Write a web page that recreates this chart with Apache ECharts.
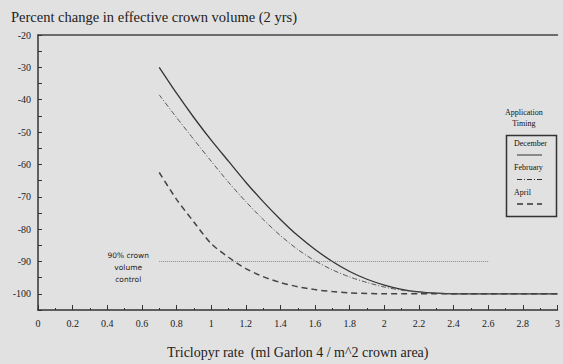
<!DOCTYPE html>
<html>
<head>
<meta charset="utf-8">
<script src="https://cdn.jsdelivr.net/npm/echarts@6/dist/echarts.min.js"></script>
<style>
  html, body { margin: 0; padding: 0; background: #e1e1e1; }
  #chart { width: 563px; height: 364px; }
</style>
</head>
<body>
<div id="chart"></div>
<script>
// Triclopyr rate (ml Garlon 4 / m^2 crown area)
var rates = [0.7, 0.8, 0.9, 1.0, 1.1, 1.2, 1.3, 1.4, 1.5, 1.6, 1.7, 1.8,
             1.9, 2.0, 2.1, 2.2, 2.3, 2.4, 2.5, 2.6, 2.7, 2.8, 2.9, 3.0];
// percent change in crown volume
var december = [-30, -38, -45.5, -52.5, -59, -65.5, -71.5, -77, -82, -86.3, -90, -93.1,
                -95.5, -97.3, -98.6, -99.4, -99.8, -100, -100, -100, -100, -100, -100, -100];
var february = [-38.5, -45.5, -52.3, -59, -65.5, -71.5, -77, -82, -86.3, -89.8, -92.6, -94.8,
                -96.5, -97.9, -98.9, -99.5, -99.8, -100, -100, -100, -100, -100, -100, -100];
var april = [-62.5, -70.8, -77.8, -84.5, -88.7, -92.2, -94.7, -96.5, -97.8, -98.7, -99.3, -99.7,
             -99.9, -100, -100, -100, -100, -100, -100, -100, -100, -100, -100, -100];
// 90% control reference line
var controlX = [0.7, 2.6];
var controlY = [-90, -90];

var seriesNames = ["December", "February", "April"];
var seriesDash = ["solid", [5, 2, 1, 2], [6, 4]];

var serif = "'Liberation Serif', 'Times New Roman', serif";
var ink = "#222";

function pairs(xs, ys) {
  return xs.map(function (x, i) { return [x, ys[i]]; });
}

var chart = echarts.init(document.getElementById("chart"), null, { renderer: "svg" });

// legend box drawn by hand: name above a short line sample
var legendItems = [];
seriesNames.forEach(function (name, i) {
  var y = 144 + i * 24.5;
  legendItems.push({
    type: "text", left: 514, top: y - 5,
    style: { text: name, font: "8px " + serif, fill: "#111", width: 30, textAlign: "center", x: 15 }
  });
  legendItems.push({
    type: "line",
    shape: { x1: 517, y1: y + 11, x2: 542, y2: y + 11 },
    style: { stroke: "#333", lineWidth: i === 2 ? 1.5 : 1, lineDash: seriesDash[i] === "solid" ? null : seriesDash[i] }
  });
});

chart.setOption({
  backgroundColor: "#e1e1e1",
  animation: false,
  title: {
    text: "Percent change in effective crown volume (2 yrs)",
    left: 6,
    top: 4,
    textStyle: { fontFamily: serif, fontSize: 14.5, fontWeight: "normal", color: ink }
  },
  grid: { left: 38, right: 0, top: 35, bottom: 49 },
  xAxis: [
    {
      type: "value",
      min: 0,
      max: 3,
      interval: 0.2,
      name: "Triclopyr rate  (ml Garlon 4 / m^2 crown area)",
      nameLocation: "middle",
      nameGap: 35,
      nameTextStyle: { fontFamily: serif, fontSize: 14, color: ink },
      axisLine: { lineStyle: { color: "#333", width: 1.5 } },
      axisTick: { inside: true, length: 5, lineStyle: { color: "#333" } },
      minorTick: { show: true, splitNumber: 2, length: 2, lineStyle: { color: "#333" } },
      axisLabel: { fontFamily: serif, fontSize: 10, color: ink, margin: 8 },
      splitLine: { show: false }
    },
    {
      type: "value",
      position: "top",
      min: 0,
      max: 3,
      axisLine: { show: true, lineStyle: { color: "#444", width: 1.5 } },
      axisTick: { show: false },
      axisLabel: { show: false },
      splitLine: { show: false }
    }
  ],
  yAxis: {
    type: "value",
    min: -105,
    max: -20,
    interval: 5,
    axisLine: { show: true, lineStyle: { color: "#333", width: 1.5 } },
    axisTick: { inside: true, length: 4, lineStyle: { color: "#333" } },
    axisLabel: {
      fontFamily: serif,
      fontSize: 10,
      color: ink,
      margin: 7,
      formatter: function (v) { return v % 10 === 0 ? v : ""; }
    },
    splitLine: { show: false }
  },
  series: [
    {
      name: "December",
      type: "line",
      data: pairs(rates, december),
      smooth: 0.25,
      showSymbol: false,
      lineStyle: { color: "#333", width: 1.3, type: seriesDash[0] }
    },
    {
      name: "February",
      type: "line",
      data: pairs(rates, february),
      smooth: 0.25,
      showSymbol: false,
      lineStyle: { color: "#555", width: 1, type: seriesDash[1] }
    },
    {
      name: "April",
      type: "line",
      data: pairs(rates, april),
      smooth: 0.25,
      showSymbol: false,
      lineStyle: { color: "#444", width: 1.5, type: seriesDash[2] }
    },
    {
      name: "90% control",
      type: "line",
      data: pairs(controlX, controlY),
      showSymbol: true,
      symbolSize: 0,
      lineStyle: { color: "#888", width: 1, type: [1, 1] },
      label: {
        show: true,
        formatter: function (p) { return p.dataIndex === 0 ? "90% crown\nvolume\ncontrol" : ""; },
        position: "left",
        distance: 31,
        align: "center",
        offset: [0, 6],
        fontFamily: "'DejaVu Sans', sans-serif",
        fontSize: 7.5,
        lineHeight: 12,
        color: ink
      }
    }
  ],
  graphic: [
    {
      type: "text", left: 505, top: 107,
      style: { text: "Application\nTiming", font: "8px " + serif, fill: "#111", textAlign: "center", x: 24, lineHeight: 11 }
    },
    {
      type: "rect", left: 504, top: 133,
      shape: { width: 50, height: 81 },
      style: { fill: "none", stroke: "#333", lineWidth: 1.5 }
    }
  ].concat(legendItems)
});
</script>
</body>
</html>
